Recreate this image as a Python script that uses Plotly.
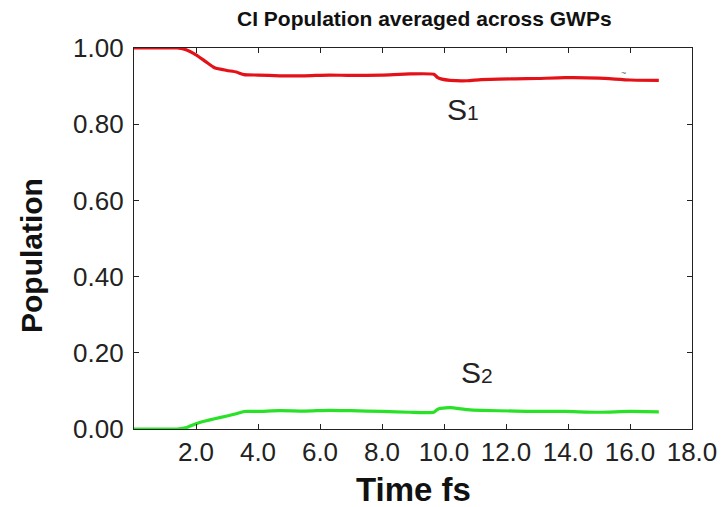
import plotly.graph_objects as go

# Population of the two states averaged across GWPs
time_fs = [0.0, 1.0, 1.4, 1.7, 2.0, 2.3, 2.6, 3.0, 3.3, 3.55, 4.0, 4.7, 5.5, 6.3, 7.0,
           8.0, 8.9, 9.67, 9.8, 9.9, 10.2, 10.75, 11.2, 12.3, 13.0, 13.9, 15.0, 16.0, 16.93]
pop_s1 = [1.0, 1.0, 1.0, 0.995, 0.982, 0.965, 0.948, 0.941, 0.937, 0.930, 0.929, 0.927,
          0.927, 0.929, 0.928, 0.929, 0.932, 0.931, 0.922, 0.919, 0.915, 0.914, 0.917,
          0.919, 0.920, 0.922, 0.921, 0.916, 0.915]
pop_s2 = [0.0, 0.0, 0.0, 0.004, 0.014, 0.021, 0.027, 0.034, 0.040, 0.046, 0.046, 0.048,
          0.047, 0.049, 0.048, 0.046, 0.044, 0.044, 0.052, 0.054, 0.056, 0.051, 0.049,
          0.047, 0.046, 0.046, 0.044, 0.046, 0.045]

x_ticks = [2, 4, 6, 8, 10, 12, 14, 16, 18]
x_tick_text = ["2.0", "4.0", "6.0", "8.0", "10.0", "12.0", "14.0", "16.0", "18.0"]
y_ticks = [0.0, 0.2, 0.4, 0.6, 0.8, 1.0]
y_tick_text = ["0.00", "0.20", "0.40", "0.60", "0.80", "1.00"]

FONT = "Liberation Sans, Arial, Helvetica, sans-serif"

fig = go.Figure()
fig.add_trace(go.Scatter(x=time_fs, y=pop_s1, mode="lines",
                         line=dict(color="rgb(228,18,24)", width=3.2, shape="spline", smoothing=0.5),
                         showlegend=False, cliponaxis=False))
fig.add_trace(go.Scatter(x=time_fs, y=pop_s2, mode="lines",
                         line=dict(color="rgb(40,226,40)", width=3.2, shape="spline", smoothing=0.5),
                         showlegend=False, cliponaxis=False))

axis_common = dict(
    showline=True, linecolor="#222", linewidth=1.3, mirror="ticks",
    ticks="inside", ticklen=5, tickwidth=1.2, tickcolor="#222",
    showgrid=False, zeroline=False,
    tickfont=dict(family=FONT, size=26, color="#222"),
)

fig.update_xaxes(range=[0, 18], tickvals=x_ticks, ticktext=x_tick_text, **axis_common)
fig.update_yaxes(range=[0, 1], tickvals=y_ticks, ticktext=y_tick_text, ticklabelstandoff=4,
                 **axis_common)

# state labels: small digit sitting on the baseline of the "S"
state_label = "S<span style='font-size:21px'>{}</span>"

annotations = [
    dict(text="<b>CI Population averaged across GWPs</b>", xref="paper", yref="paper",
         x=0.52, y=1.078, xanchor="center", yanchor="middle", showarrow=False,
         font=dict(family=FONT, size=21, color="#111")),
    dict(text="<b>Population</b>", xref="paper", yref="paper", x=-0.185, y=0.456,
         xanchor="center", yanchor="middle", textangle=-90, showarrow=False,
         font=dict(family=FONT, size=30, color="#111")),
    dict(text="<b>Time fs</b>", xref="paper", yref="paper", x=0.5, y=-0.16,
         xanchor="center", yanchor="middle", showarrow=False,
         font=dict(family=FONT, size=33, color="#111")),
    dict(text=state_label.format(1), xref="x", yref="y", x=10.6, y=0.838,
         xanchor="center", yanchor="middle", showarrow=False,
         font=dict(family=FONT, size=30, color="#222")),
    dict(text=state_label.format(2), xref="x", yref="y", x=11.06, y=0.148,
         xanchor="center", yanchor="middle", showarrow=False,
         font=dict(family=FONT, size=30, color="#222")),
    dict(text="~", xref="x", yref="y", x=15.8, y=0.935,
         xanchor="center", yanchor="middle", showarrow=False,
         font=dict(family=FONT, size=9, color="#666")),
]

fig.update_layout(
    width=728, height=507,
    margin=dict(l=134, r=36, t=48, b=78, pad=0),
    paper_bgcolor="white", plot_bgcolor="white",
    annotations=annotations,
)

fig.write_html("out.html")
